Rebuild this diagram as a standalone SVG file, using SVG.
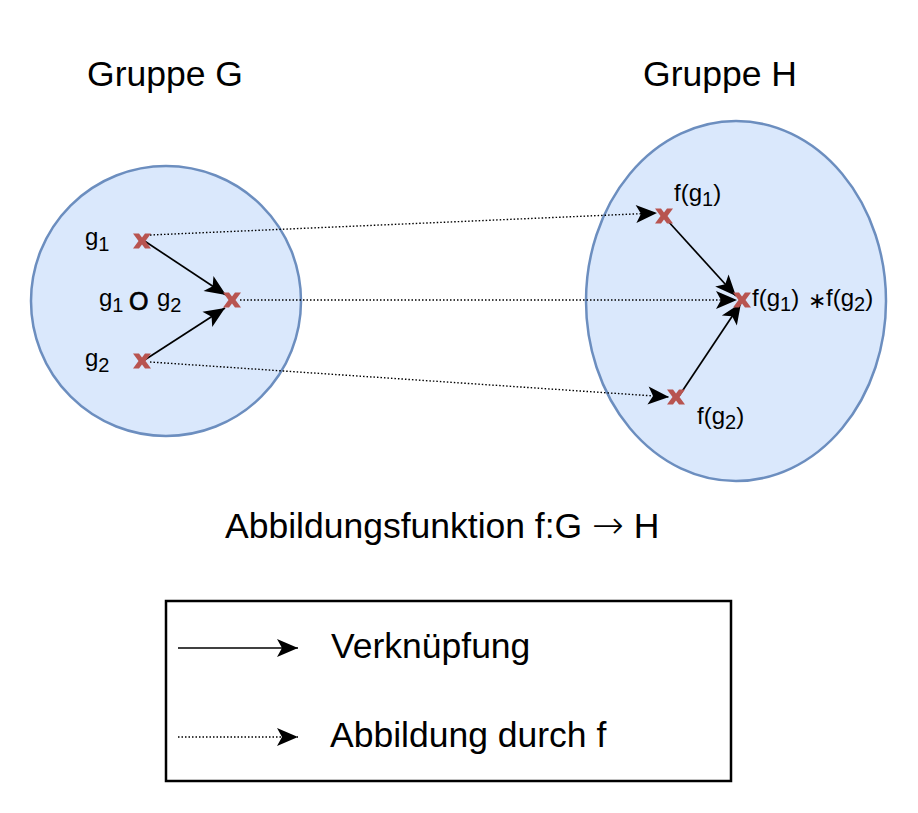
<svg xmlns="http://www.w3.org/2000/svg" width="918" height="813" viewBox="0 0 918 813">
<style>
text{font-family:"Liberation Sans",Arial,sans-serif;fill:#000}
.big{font-size:35.5px}
.lbl{font-size:24px}
.sub{font-size:20px}
.grp{fill:#dae8fc;stroke:#6c8ebf;stroke-width:2.5}
.x{fill:#b85450}
.solid{stroke:#000;stroke-width:1.7;fill:none;marker-end:url(#arr)}
.dot{stroke:#000;stroke-width:1.4;stroke-dasharray:1.5 2;fill:none;marker-end:url(#arr)}
</style>
<defs>
<marker id="arr" viewBox="-22 -10 23 20" refX="0" refY="0" markerWidth="23" markerHeight="20" markerUnits="userSpaceOnUse" orient="auto">
<path d="M0,0 L-21,-9 L-16,0 L-21,9 Z" fill="#000"/>
</marker>
<path id="xm" d="M-9,-7.5 L-3,-7.5 L0,-3.5 L3,-7.5 L9,-7.5 L3.5,0 L9,7.5 L3,7.5 L0,3.5 L-3,7.5 L-9,7.5 L-3.5,0 Z"/>
</defs>
<rect width="918" height="813" fill="#fff"/>
<g id="groupG">
<ellipse class="grp" cx="166" cy="301" rx="135" ry="135"/>
<text class="big" x="165" y="86" text-anchor="middle">Gruppe G</text>
</g>
<g id="groupH">
<ellipse class="grp" cx="736" cy="301" rx="150" ry="180"/>
<text class="big" x="720" y="86" text-anchor="middle">Gruppe H</text>
</g>
<g id="connectors">
<line class="solid" x1="143" y1="240" x2="226" y2="295"/>
<line class="solid" x1="143" y1="361" x2="225" y2="308"/>
<line class="dot" x1="150" y1="235" x2="657" y2="213"/>
<line class="dot" x1="240" y1="300" x2="737" y2="300"/>
<line class="dot" x1="150" y1="362" x2="669" y2="397"/>
<line class="solid" x1="667" y1="220" x2="736" y2="296"/>
<line class="solid" x1="679" y1="396" x2="741" y2="303"/>
</g>
<g id="g1">
<use href="#xm" class="x" x="142" y="241"/>
<text class="lbl" x="85" y="245">g<tspan class="sub" dy="6">1</tspan></text>
</g>
<g id="g2">
<use href="#xm" class="x" x="142" y="361"/>
<text class="lbl" x="85" y="366">g<tspan class="sub" dy="6">2</tspan></text>
</g>
<g id="g1og2">
<use href="#xm" class="x" x="232" y="300"/>
<text class="lbl" x="99" y="306">g<tspan class="sub" dy="6">1</tspan></text>
<text x="129" y="310" font-size="25" stroke="#000" stroke-width="0.7">O</text>
<text class="lbl" x="157" y="306">g<tspan class="sub" dy="6">2</tspan></text>
</g>
<g id="fg1">
<use href="#xm" class="x" x="664" y="216"/>
<text class="lbl" x="674" y="201">f(g<tspan class="sub" dy="5">1</tspan><tspan dy="-5">)</tspan></text>
</g>
<g id="fg2">
<use href="#xm" class="x" x="676" y="397"/>
<text class="lbl" x="697" y="424">f(g<tspan class="sub" dy="5">2</tspan><tspan dy="-5">)</tspan></text>
</g>
<g id="fg1fg2">
<use href="#xm" class="x" x="742" y="300"/>
<text class="lbl" x="752" y="306">f(g<tspan class="sub" dy="5">1</tspan><tspan dy="-5">)</tspan></text>
<text x="808" y="308" font-size="22" fill="#444" font-family="DejaVu Sans,sans-serif">∗</text>
<text class="lbl" x="826" y="306">f(g<tspan class="sub" dy="5">2</tspan><tspan dy="-5">)</tspan></text>
</g>
<g id="title">
<text class="big" x="225" y="538">Abbildungsfunktion f:G <tspan font-family="DejaVu Sans,sans-serif" font-weight="200" font-size="38">→</tspan> H</text>
</g>
<g id="legend">
<rect x="166" y="601" width="565" height="180" fill="#fff" stroke="#000" stroke-width="2.5"/>
<line class="solid" x1="178" y1="648" x2="298" y2="648"/>
<line class="dot" x1="178" y1="737" x2="298" y2="737"/>
<text class="big" x="331" y="658">Verknüpfung</text>
<text class="big" x="330" y="747">Abbildung durch f</text>
</g>
</svg>
